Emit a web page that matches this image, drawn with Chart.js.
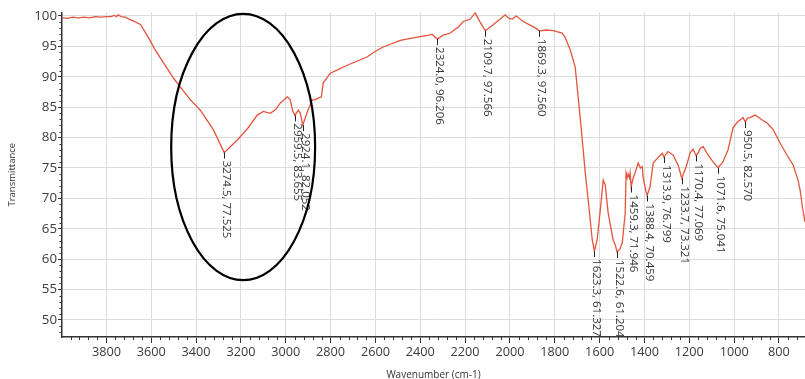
<!DOCTYPE html>
<html>
<head>
<meta charset="utf-8">
<script src="https://cdn.jsdelivr.net/npm/chart.js@4.4.1/dist/chart.umd.min.js"></script>
<style>
  html, body { margin: 0; padding: 0; background: #fff; }
  #wrap { width: 805px; height: 379px; }
</style>
</head>
<body>
<div id="wrap"><canvas id="myChart"></canvas></div>
<script>
// FTIR spectrum: wavenumber (cm-1) -> transmittance (%)
const wavenumber = [
  3998, 3975, 3950, 3925, 3900, 3875, 3850, 3825, 3800, 3780, 3765, 3755, 3748, 3735, 3715, 3700,
  3680, 3648, 3615, 3582, 3540, 3501, 3470, 3425, 3381, 3323, 3274.5, 3216, 3170, 3127, 3100, 3069,
  3045, 3024, 2993, 2980, 2970, 2959.5, 2944, 2935, 2924.1, 2904, 2882, 2870, 2855, 2841, 2833, 2801,
  2760, 2726, 2680, 2636, 2600, 2565, 2489, 2420, 2356, 2347, 2336, 2324.0, 2300, 2266, 2230, 2208,
  2177, 2155, 2133, 2109.7, 2088, 2057, 2021, 2005, 1990, 1972, 1941, 1910, 1885, 1869.3, 1840, 1807,
  1767, 1754, 1731, 1709, 1687, 1664, 1651, 1633, 1623.3, 1611, 1597, 1584, 1575, 1562, 1540, 1530,
  1522.6, 1510, 1499, 1486, 1482, 1477, 1473, 1467, 1464, 1459.3, 1450, 1442, 1428, 1418, 1410, 1406,
  1395, 1388.4, 1375, 1361, 1345, 1330, 1320, 1313.9, 1295, 1272, 1250, 1233.7, 1214, 1196, 1183, 1170.4,
  1160, 1150, 1138, 1116, 1094, 1071.6, 1050, 1027, 1005, 985, 973, 960, 950.5, 940, 929, 907,
  890, 875, 853, 826, 795, 764, 737, 715, 706, 695, 684
];
const transmittance = [
  99.7, 99.6, 99.8, 99.7, 99.8, 99.7, 99.9, 99.8, 99.9, 99.9, 100.1, 99.9, 100.2, 99.9, 99.8, 99.5,
  99.2, 98.6, 96.6, 94.4, 92.0, 89.8, 88.3, 86.2, 84.5, 81.3, 77.525, 79.6, 81.5, 83.7, 84.3, 84.0,
  84.6, 85.7, 86.7, 86.2, 84.5, 83.655, 84.5, 84.0, 82.052, 84.2, 86.2, 86.2, 86.5, 86.7, 89.0, 90.6,
  91.3, 91.9, 92.6, 93.3, 94.2, 94.9, 96.0, 96.5, 96.9, 97.0, 96.6, 96.206, 96.8, 97.2, 98.2, 99.1,
  99.5, 100.5, 99.0, 97.566, 98.2, 99.1, 100.2, 99.6, 99.5, 100.0, 99.1, 98.5, 98.0, 97.56, 97.7, 97.6,
  97.2, 96.5, 94.4, 91.6, 83.4, 74.2, 69.7, 63.2, 61.327, 63.2, 68.1, 73.0, 72.2, 67.6, 63.2, 62.3,
  61.204, 61.6, 62.7, 67.6, 74.2, 73.4, 74.0, 73.4, 74.2, 71.946, 73.4, 74.2, 75.8, 75.0, 75.2, 73.5,
  71.4, 70.459, 71.9, 75.8, 76.5, 77.1, 77.4, 76.799, 77.7, 77.1, 75.5, 73.321, 75.2, 77.5, 78.1, 77.069,
  77.5, 78.3, 78.5, 77.1, 76.0, 75.041, 76.0, 78.0, 81.6, 82.6, 82.9, 83.3, 82.57, 83.2, 83.3, 83.7,
  83.3, 82.9, 82.4, 81.3, 79.1, 77.1, 75.5, 73.0, 71.4, 68.5, 66.1
];

// labelled peaks
const peakWavenumber = [3274.5, 2959.5, 2924.1, 2324.0, 2109.7, 1869.3, 1623.3, 1522.6, 1459.3, 1388.4, 1313.9, 1233.7, 1170.4, 1071.6, 950.5];
const peakTransmittance = [77.525, 83.655, 82.052, 96.206, 97.566, 97.560, 61.327, 61.204, 71.946, 70.459, 76.799, 73.321, 77.069, 75.041, 82.570];

const xTicks = [3800, 3600, 3400, 3200, 3000, 2800, 2600, 2400, 2200, 2000, 1800, 1600, 1400, 1200, 1000, 800];
const yTicks = [50, 55, 60, 65, 70, 75, 80, 85, 90, 95, 100];

// hand drawn ring around the O-H band: centre and radii in axis units
const ringCentre = [3190, 78.45];
const ringRadius = [321, 21.9];

const minorTicks = {
  id: 'minorTicks',
  afterDraw(chart) {
    const {ctx, chartArea, scales: {x, y}} = chart;
    ctx.save();
    ctx.strokeStyle = '#333';
    ctx.lineWidth = 1;
    ctx.beginPath();
    for (let w = 3960; w > x.min; w -= 40) {
      if (w % 200 === 0) continue;
      const px = Math.round(x.getPixelForValue(w)) + 0.5;
      ctx.moveTo(px, chartArea.bottom);
      ctx.lineTo(px, chartArea.bottom + 3);
    }
    for (let t = 48; t <= 100; t++) {
      if (t % 5 === 0) continue;
      const py = Math.round(y.getPixelForValue(t)) + 0.5;
      ctx.moveTo(chartArea.left - 2.5, py);
      ctx.lineTo(chartArea.left, py);
    }
    ctx.stroke();
    ctx.restore();
  }
};

const peakLabels = {
  id: 'peakLabels',
  afterDatasetsDraw(chart) {
    const {ctx, chartArea, scales: {x, y}} = chart;
    ctx.save();
    ctx.beginPath();
    ctx.rect(chartArea.left, chartArea.top, chartArea.right - chartArea.left, chartArea.bottom - chartArea.top);
    ctx.clip();
    ctx.font = "11.5px 'Open Sans', sans-serif";
    ctx.fillStyle = '#333';
    ctx.strokeStyle = '#222';
    ctx.lineWidth = 1;
    peakWavenumber.forEach((w, i) => {
      const px = Math.round(x.getPixelForValue(w)) + 0.5;
      const py = y.getPixelForValue(peakTransmittance[i]);
      ctx.beginPath();
      ctx.moveTo(px, py);
      ctx.lineTo(px, py + 6);
      ctx.stroke();
      ctx.save();
      ctx.translate(px - 2, py + 8);
      ctx.rotate(Math.PI / 2);
      ctx.textAlign = 'left';
      ctx.textBaseline = 'alphabetic';
      ctx.fillText(w.toFixed(1) + ', ' + peakTransmittance[i].toFixed(3), 0, 0);
      ctx.restore();
    });
    ctx.restore();

    // the ring
    const cx = x.getPixelForValue(ringCentre[0]);
    const cy = y.getPixelForValue(ringCentre[1]);
    const rx = Math.abs(x.getPixelForValue(ringCentre[0] - ringRadius[0]) - cx);
    const ry = Math.abs(y.getPixelForValue(ringCentre[1] + ringRadius[1]) - cy);
    ctx.save();
    ctx.strokeStyle = '#000';
    ctx.lineWidth = 2.2;
    ctx.beginPath();
    ctx.ellipse(cx, cy, rx, ry, 0, 0, Math.PI * 2);
    ctx.stroke();
    ctx.restore();
  }
};

Chart.defaults.font.family = "'Open Sans', sans-serif";

const spectrumChart = new Chart(
  document.getElementById('myChart'),
  {
    type: 'line',
    data: {
      datasets: [
        {
          data: wavenumber.map((w, i) => ({x: w, y: transmittance[i]})),
          borderColor: '#e4543c',
          borderWidth: 1.3,
          pointRadius: 0,
          tension: 0,
          fill: false
        }
      ]
    },
    options: {
      responsive: true,
      maintainAspectRatio: false,
      animation: false,
      layout: { padding: { top: 12.35, left: 0, right: 0, bottom: 0 } },
      plugins: {
        legend: { display: false },
        tooltip: { enabled: false }
      },
      scales: {
        x: {
          type: 'linear',
          reverse: true,
          min: 684,
          max: 3998,
          afterBuildTicks: scale => { scale.ticks = xTicks.map(v => ({value: v})); },
          afterFit: scale => { scale.height = 42; },
          ticks: {
            callback: v => String(v),
            color: '#3a3a3a',
            font: { size: 12.7 },
            padding: 2,
            maxRotation: 0,
            autoSkip: false
          },
          grid: { color: '#dcdcdc', tickColor: '#333', tickLength: 6, lineWidth: 1 },
          border: { color: '#333', width: 1.5 },
          title: {
            display: true,
            text: 'Wavenumber (cm-1)',
            color: '#333',
            font: { size: 10, lineHeight: 0.8 },
            padding: { top: 0, bottom: 0 }
          }
        },
        y: {
          min: 47.2,
          max: 100.6,
          afterBuildTicks: scale => { scale.ticks = yTicks.map(v => ({value: v})); },
          afterFit: scale => { scale.width = 62; },
          ticks: {
            callback: v => String(v),
            color: '#3a3a3a',
            font: { size: 13.3 },
            padding: 1
          },
          grid: { color: '#dcdcdc', tickColor: '#333', tickLength: 4, lineWidth: 1 },
          border: { color: '#333', width: 1.5 },
          title: {
            display: true,
            text: 'Transmittance',
            color: '#333',
            font: { size: 9.5, lineHeight: 1.2 },
            padding: { top: 7, bottom: 0 }
          }
        }
      }
    },
    plugins: [minorTicks, peakLabels]
  }
);
</script>
</body>
</html>
